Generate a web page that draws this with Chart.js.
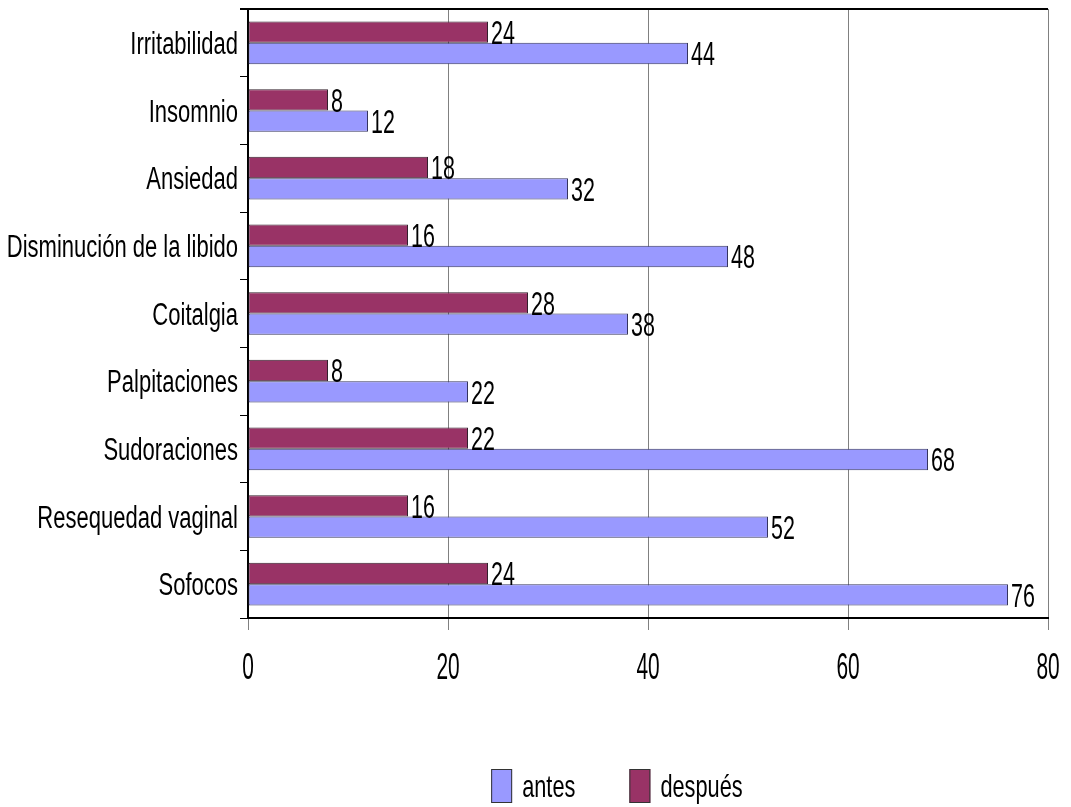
<!DOCTYPE html>
<html>
<head>
<meta charset="utf-8">
<script src="https://cdn.jsdelivr.net/npm/chart.js@4/dist/chart.umd.min.js"></script>
<style>
  body { margin: 0; background: #fff; }
  #sintomas-chart { display: block; }
</style>
</head>
<body>
<canvas id="sintomas-chart" width="1071" height="807"></canvas>
<script>
const sintomas = ['Irritabilidad', 'Insomnio', 'Ansiedad', 'Disminución de la libido', 'Coitalgia',
    'Palpitaciones', 'Sudoraciones', 'Resequedad vaginal', 'Sofocos'];
const antes = [44, 12, 32, 48, 38, 22, 68, 52, 76];
const despues = [24, 8, 18, 16, 28, 8, 22, 16, 24];
const xTicks = [0, 20, 40, 60, 80];

const FONT = "'Liberation Sans', Arial, sans-serif";

// narrow text: regular face squeezed horizontally
function narrowText(ctx, text, x, y, size, squeeze, align) {
    ctx.save();
    ctx.font = size + 'px ' + FONT;
    ctx.fillStyle = '#000';
    ctx.textBaseline = 'alphabetic';
    ctx.textAlign = align;
    ctx.translate(x, y + size * 0.358);
    ctx.scale(squeeze, 1);
    ctx.fillText(text, 0, 0);
    ctx.restore();
}

function narrowWidth(ctx, text, size, squeeze) {
    ctx.save();
    ctx.font = size + 'px ' + FONT;
    const w = ctx.measureText(text).width * squeeze;
    ctx.restore();
    return w;
}

// category names and x tick values
const axisLabels = {
    id: 'axisLabels',
    afterDraw(chart) {
        const ctx = chart.ctx;
        const y = chart.scales.y;
        const x = chart.scales.x;
        sintomas.forEach((name, i) => {
            narrowText(ctx, name, y.right - 10, y.getPixelForTick(i), 31, 0.71, 'right');
        });
        xTicks.forEach(v => {
            narrowText(ctx, String(v), x.getPixelForValue(v), chart.chartArea.bottom + 48, 36, 0.58, 'center');
        });
    }
};

// value written just past the end of each bar
const valueLabels = {
    id: 'valueLabels',
    afterDatasetsDraw(chart) {
        const ctx = chart.ctx;
        chart.data.datasets.forEach((ds, i) => {
            chart.getDatasetMeta(i).data.forEach((bar, j) => {
                narrowText(ctx, String(ds.data[j]), bar.x + 3, bar.y, 33, 0.65, 'left');
            });
        });
    }
};

// legend below the plot, antes first
const legendBoxes = {
    id: 'legendBoxes',
    afterDraw(chart) {
        const ctx = chart.ctx;
        const size = 32, squeeze = 0.68;
        const boxW = 21, boxH = 34, gap = 10, spacing = 54;
        const items = chart.data.datasets.slice().reverse();
        const widths = items.map(ds => boxW + gap + narrowWidth(ctx, ds.label, size, squeeze));
        const total = widths.reduce((a, b) => a + b, 0) + spacing * (items.length - 1);
        let left = chart.width * 0.576 - total / 2;
        const cy = chart.height - 21;
        items.forEach((ds, i) => {
            ctx.save();
            ctx.fillStyle = ds.backgroundColor;
            ctx.strokeStyle = '#333';
            ctx.lineWidth = 1;
            ctx.fillRect(left, cy - boxH / 2, boxW, boxH);
            ctx.strokeRect(left + 0.5, cy - boxH / 2 + 0.5, boxW - 1, boxH - 1);
            ctx.restore();
            narrowText(ctx, ds.label, left + boxW + gap, cy, size, squeeze, 'left');
            left += widths[i] + spacing;
        });
    }
};

// black line along the top of the plot area
const topBorder = {
    id: 'topBorder',
    afterDraw(chart) {
        const a = chart.chartArea;
        const ctx = chart.ctx;
        ctx.save();
        ctx.strokeStyle = '#000';
        ctx.lineWidth = 2;
        ctx.beginPath();
        ctx.moveTo(a.left - 8, a.top);
        ctx.lineTo(a.right, a.top);
        ctx.stroke();
        ctx.restore();
    }
};

const ctx = document.getElementById('sintomas-chart').getContext('2d');

new Chart(ctx, {
    type: 'bar',
    data: {
        labels: sintomas,
        datasets: [{
            label: 'después',
            data: despues,
            backgroundColor: '#993366',
            borderColor: '#33202c',
            borderWidth: 1,
            borderSkipped: false
        }, {
            label: 'antes',
            data: antes,
            backgroundColor: '#9999ff',
            borderColor: '#35355e',
            borderWidth: 1,
            borderSkipped: false
        }]
    },
    options: {
        indexAxis: 'y',
        responsive: false,
        animation: false,
        categoryPercentage: 0.63,
        barPercentage: 1,
        layout: {
            padding: { top: 9, right: 23, left: 0, bottom: 0 }
        },
        plugins: {
            tooltip: { enabled: false },
            legend: { display: false }
        },
        scales: {
            x: {
                min: 0,
                max: 80,
                afterBuildTicks(scale) {
                    scale.ticks = xTicks.map(v => ({ value: v }));
                },
                afterFit(scale) {
                    scale.height = 189;
                },
                grid: {
                    color: '#808080',
                    lineWidth: 1,
                    tickLength: 12
                },
                border: { display: true, color: '#000', width: 2 },
                ticks: { display: false }
            },
            y: {
                afterFit(scale) {
                    scale.width = 248;
                },
                grid: {
                    offset: true,
                    drawOnChartArea: false,
                    color: '#000',
                    tickLength: 8
                },
                border: { display: true, color: '#000', width: 2 },
                ticks: { display: false }
            }
        }
    },
    plugins: [valueLabels, axisLabels, legendBoxes, topBorder]
});
</script>
</body>
</html>
